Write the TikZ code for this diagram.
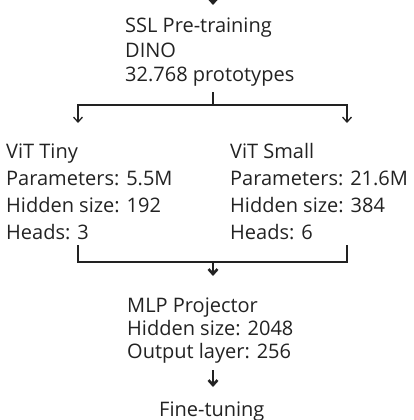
\documentclass[tikz,border=0pt]{standalone}
\usepackage{fontspec}
\setmainfont{Open Sans}
\usetikzlibrary{arrows.meta}
\definecolor{ink}{HTML}{222222}
\tikzset{
  lbl/.style={anchor=base west, inner sep=0pt, align=left, text=ink,
    font=\fontsize{20}{#1}\selectfont},
  wire/.style={draw=ink, line width=1.3pt},
  boldwire/.style={draw=ink, line width=2.6pt},
  tip/.style={-{Straight Barb[length=5pt,width=9pt]}},
}
\begin{document}
\begin{tikzpicture}[x=1pt,y=-1pt]
\useasboundingbox (0,0) rectangle (413,420);

% text blocks (placed at the baseline of their last line)
\node[lbl=24.3pt] (ssl) at (125,81.5) {SSL Pre-training\\DINO\\32.768 prototypes};
\node[lbl=26.7pt] (tiny) at (6,239) {ViT Tiny\\Parameters: 5.5M\\Hidden size: 192\\Heads: 3};
\node[lbl=26.7pt] (small) at (230,239) {ViT Small\\Parameters: 21.6M\\Hidden size: 384\\Heads: 6};
\node[lbl=23pt] (mlp) at (127,358) {MLP Projector\\Hidden size: 2048\\Output layer: 256};
\node[lbl=20pt] (ft) at (159,416) {Fine-tuning};

% connector points
\coordinate (top) at (213,-10);
\coordinate (sslin) at (213,5);
\coordinate (stem) at (213,92);
\coordinate (split) at (213,105);
\coordinate (tinyin) at (78,123);
\coordinate (smallin) at (347,123);
\coordinate (tinyout) at (78,245);
\coordinate (smallout) at (347,245);
\coordinate (join) at (213,262);
\coordinate (mlpin) at (213,276);
\coordinate (mlpout) at (213,370);
\coordinate (ftin) at (213,387);

% connectors
\draw[boldwire,tip] (top) -- (sslin);
\draw[boldwire] (stem) -- (split);
\draw[wire,tip] (split) -| (tinyin);
\draw[wire,tip] (split) -| (smallin);
\draw[wire] (tinyout) -- (tinyout |- join) -- (smallout |- join) -- (smallout);
\draw[boldwire,tip] (join) -- (mlpin);
\draw[boldwire,tip] (mlpout) -- (ftin);
\end{tikzpicture}
\end{document}
